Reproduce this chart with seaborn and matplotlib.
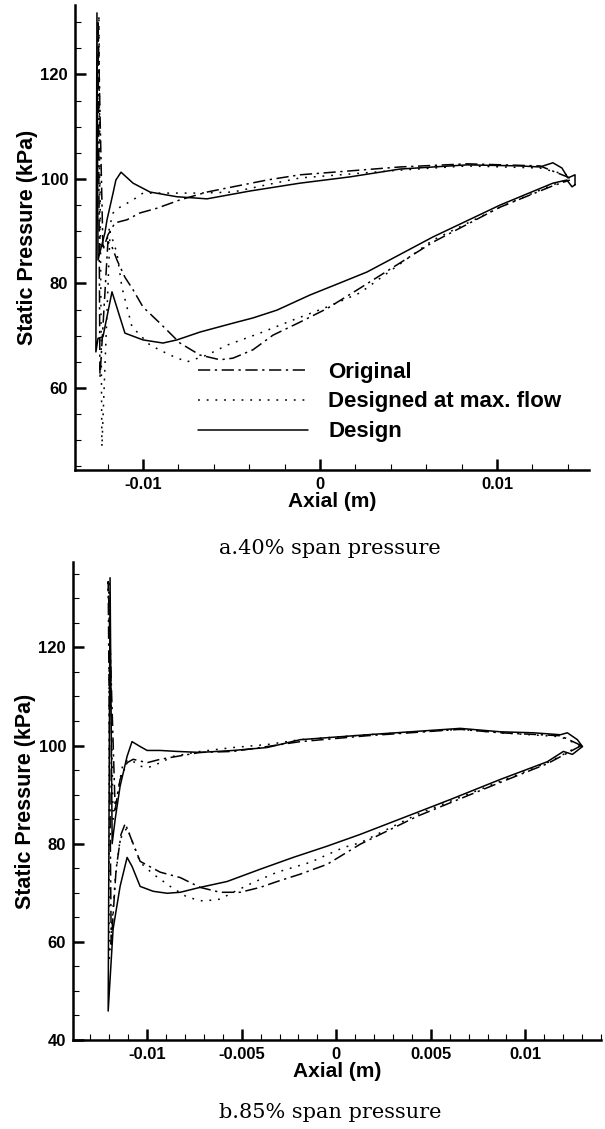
import matplotlib
matplotlib.use("Agg")
import matplotlib.pyplot as plt
from matplotlib.ticker import MultipleLocator, FuncFormatter
import seaborn as sns

# ---------------- data: (a) 40% span ----------------
a_orig_x = [0.01412, 0.01243, 0.00831, 0.00452, -0.00113, -0.00299, -0.00492, -0.00638, -0.00791,
            -0.00921, -0.01017, -0.0109, -0.01158, -0.01198, -0.01226, -0.01254, -0.01243, -0.01198,
            -0.01175, -0.01147, -0.01102, -0.01056, -0.0100, -0.00904, -0.00791, -0.00678, -0.00565,
            -0.00492, -0.00379, -0.00266, -0.00113, 0.0004, 0.00226, 0.00638, 0.01017, 0.01316, 0.01412]
a_orig_y = [100.2, 102.5, 102.9, 102.3, 100.8, 99.8, 98.5, 97.5, 96.0,
            94.4, 93.5, 92.2, 91.6, 89.3, 86.4, 130.4, 62.0, 88.0,
            87.0, 84.5, 81.2, 78.8, 75.5, 72.4, 68.6, 66.3, 65.4,
            65.7, 67.3, 70.1, 72.6, 75.2, 79.1, 87.9, 94.6, 98.7, 99.8]

a_max_x = [0.01395, 0.01243, 0.00831, 0.00452, -0.00113, -0.00299, -0.00492, -0.00678, -0.00864,
           -0.0100, -0.01056, -0.0113, -0.01169, -0.01186, -0.01203, -0.01243, -0.01249, -0.01232,
           -0.01186, -0.01147, -0.01119, -0.01062, -0.0096, -0.00847, -0.00751, -0.00638, -0.00525,
           -0.00339, -0.00153, 0.0004, 0.00226, 0.00638, 0.01017, 0.01316, 0.01395]
a_max_y = [100.8, 102.1, 102.5, 101.7, 100.2, 98.9, 97.5, 97.3, 97.3,
           97.3, 96.0, 94.6, 93.5, 91.2, 88.3, 86.4, 131.4, 48.7,
           89.9, 85.8, 79.3, 71.7, 68.2, 66.3, 65.0, 66.3, 68.2,
           70.5, 73.0, 75.5, 78.2, 88.3, 94.6, 98.9, 99.8]

a_des_x = [0.01441, 0.01441, 0.01401, 0.01367, 0.01316, 0.01243, 0.0113, 0.00831, 0.00452,
           0.00169, -0.00113, -0.00395, -0.00638, -0.00808, -0.0096, -0.01056, -0.01124, -0.01153,
           -0.01169, -0.01203, -0.01215, -0.01254, -0.0126, -0.01266, -0.01254, -0.01226, -0.01175,
           -0.01102, -0.0100, -0.00887, -0.00808, -0.00678, -0.00492, -0.00379, -0.00243, -0.00056,
           0.00113, 0.00266, 0.00638, 0.01017, 0.01316, 0.01395, 0.01424, 0.01441]
a_des_y = [98.9, 100.8, 100.2, 102.1, 103.1, 102.3, 102.5, 102.7, 101.9,
           100.4, 99.2, 97.7, 96.2, 96.6, 97.5, 99.2, 101.3, 99.8,
           97.3, 92.2, 89.7, 84.5, 131.8, 66.9, 69.5, 69.8, 78.4,
           70.5, 69.2, 68.6, 69.2, 70.7, 72.4, 73.4, 74.9, 77.8,
           80.1, 82.2, 88.9, 95.0, 99.2, 99.8, 98.5, 98.9]

# ---------------- data: (b) 85% span ----------------
b_orig_x = [0.01296, 0.01185, 0.00868, 0.00656, 0.00164, -0.0019, -0.00365, -0.00545, -0.0072,
            -0.00841, -0.00931, -0.0100, -0.01074, -0.01106, -0.01143, -0.01169, -0.01206, -0.0119,
            -0.01164, -0.01138, -0.01116, -0.01037, -0.00931, -0.00825, -0.0072, -0.00614, -0.00508,
            -0.00402, -0.00312, -0.0019, -0.00048, 0.00127, 0.00429, 0.00868, 0.01116, 0.01296]
b_orig_y = [100.0, 102.0, 102.6, 103.3, 102.0, 100.8, 99.8, 98.8, 98.6,
            97.8, 97.2, 96.5, 97.2, 96.5, 93.1, 87.0, 133.4, 59.5,
            74.8, 81.9, 84.1, 76.4, 74.2, 73.1, 71.1, 70.1, 70.1,
            71.1, 72.3, 73.8, 75.8, 79.9, 85.6, 92.5, 96.3, 100.0]

b_max_x = [0.01291, 0.01185, 0.00868, 0.00656, 0.00164, -0.0019, -0.00365, -0.00545, -0.0072,
           -0.00862, -0.00931, -0.00995, -0.01037, -0.0109, -0.01127, -0.01153, -0.0118, -0.01201,
           -0.01201, -0.01169, -0.01143, -0.01106, -0.01037, -0.00968, -0.00878, -0.00788, -0.00704,
           -0.00614, -0.00545, -0.00439, -0.00312, -0.00138, 0.00037, 0.00127, 0.00429, 0.00868,
           0.01116, 0.01291]
b_max_y = [100.0, 101.8, 102.6, 103.3, 102.2, 101.2, 100.2, 99.6, 98.8,
           97.8, 96.5, 95.5, 95.8, 97.2, 96.5, 91.0, 85.0, 133.8,
           55.8, 72.7, 80.9, 83.3, 76.2, 73.8, 71.3, 69.1, 68.3,
           68.7, 70.1, 72.1, 74.2, 76.2, 79.2, 80.2, 86.0, 92.7,
           96.5, 100.0]

b_des_x = [0.01302, 0.01275, 0.01222, 0.01185, 0.01042, 0.00868, 0.00656, 0.00164, -0.0019,
           -0.00365, -0.00545, -0.0072, -0.00841, -0.00931, -0.0100, -0.01037, -0.0108, -0.01106,
           -0.01143, -0.01169, -0.01185, -0.01196, -0.01206, -0.0118, -0.01143, -0.01106, -0.0108,
           -0.01037, -0.00968, -0.00894, -0.00825, -0.0072, -0.00577, -0.00402, -0.00228, -0.00048,
           0.00127, 0.00429, 0.00603, 0.00868, 0.01116, 0.01201, 0.01249, 0.01302]
b_des_y = [99.8, 101.2, 102.6, 102.2, 102.6, 102.8, 103.5, 102.2, 101.2,
           99.6, 99.0, 98.6, 98.8, 99.0, 99.0, 99.8, 100.8, 97.8,
           91.7, 85.0, 80.0, 134.2, 45.9, 62.6, 71.3, 77.2, 75.4,
           71.3, 70.3, 69.9, 70.1, 71.1, 72.3, 74.8, 77.2, 79.5,
           81.9, 86.4, 89.0, 93.1, 96.7, 98.8, 98.2, 99.8]

series_labels = ["Original", "Designed at max. flow", "Design"]
a_xticks_major, a_xticks_minor = 0.01, 0.002
b_xticks_major, b_xticks_minor = 0.005, 0.001
captions = ["a.40% span pressure", "b.85% span pressure"]

# ---------------- styling ----------------
sns.set_style("ticks")
plt.rcParams["font.family"] = ["Liberation Sans", "DejaVu Sans"]
plt.rcParams["font.weight"] = "bold"
plt.rcParams["axes.labelweight"] = "bold"
for k in ["text.color", "axes.labelcolor", "xtick.color", "ytick.color", "axes.edgecolor"]:
    plt.rcParams[k] = "black"

styles = [(0, (8, 3, 1.5, 3)), (0, (1.2, 4.5)), "-"]

fig = plt.figure(figsize=(6.05, 11.29), dpi=100)
W, H = 605, 1129
ax1 = fig.add_axes([75 / W, 1 - 470 / H, (589 - 75) / W, (470 - 5) / H])
ax2 = fig.add_axes([73 / W, 1 - 1040 / H, (601 - 73) / W, (1040 - 562) / H])

fmt = FuncFormatter(lambda v, p: "%g" % (round(v, 6) + 0.0))


def draw(ax, xs, ys, labels):
    for x, y, ls, lab in zip(xs, ys, styles, labels):
        kw = {}
        if lab is not None:
            kw["label"] = lab
        sns.lineplot(x=x, y=y, sort=False, estimator=None, ax=ax, color="black",
                     linewidth=1.1, linestyle=ls, **kw)


def style_axes(ax, xmaj, xmin, xlim, ylim):
    ax.set_xlim(*xlim)
    ax.set_ylim(*ylim)
    for s in ["top", "right"]:
        ax.spines[s].set_visible(False)
    for s in ["left", "bottom"]:
        ax.spines[s].set_linewidth(1.8)
        ax.spines[s].set_color("black")
    ax.xaxis.set_major_locator(MultipleLocator(xmaj))
    ax.xaxis.set_minor_locator(MultipleLocator(xmin))
    ax.yaxis.set_major_locator(MultipleLocator(20))
    ax.yaxis.set_minor_locator(MultipleLocator(5))
    ax.xaxis.set_major_formatter(fmt)
    ax.yaxis.set_major_formatter(fmt)
    ax.tick_params(which="major", direction="in", length=8, width=1.8, labelsize=12,
                   color="black", labelcolor="black")
    ax.tick_params(which="minor", direction="in", length=4, width=0.8, color="black")
    ax.tick_params(axis="x", which="major", pad=5)
    ax.tick_params(axis="y", which="major", pad=5)
    ax.set_xlabel("Axial (m)", fontsize=15, fontweight="bold", labelpad=0, color="black")
    ax.set_ylabel("Static Pressure (kPa)", fontsize=15.5, fontweight="bold", labelpad=2,
                  color="black")
    for lab in ax.get_xticklabels() + ax.get_yticklabels():
        lab.set_fontweight("bold")


draw(ax1, [a_orig_x, a_max_x, a_des_x], [a_orig_y, a_max_y, a_des_y], series_labels)
draw(ax2, [b_orig_x, b_max_x, b_des_x], [b_orig_y, b_max_y, b_des_y], [None, None, None])

style_axes(ax1, a_xticks_major, a_xticks_minor, (-0.01384, 0.0152), (44.3, 133.3))
style_axes(ax2, b_xticks_major, b_xticks_minor, (-0.01392, 0.0140), (40, 137.4))

if ax2.get_legend() is not None:
    ax2.get_legend().remove()

handles, labels = ax1.get_legend_handles_labels()
ax1.legend(handles, labels, frameon=False, loc="center left",
           bbox_to_anchor=(198 / W, 1 - 402 / H), bbox_transform=fig.transFigure,
           borderpad=0, borderaxespad=0, handlelength=4.95, handletextpad=0.9,
           labelspacing=0.4, prop={"weight": "bold", "size": 16})

fig.text(330 / W, 1 - 549 / H, captions[0], ha="center", va="center",
         family="DejaVu Serif", fontsize=15, fontweight="normal", color="black")
fig.text(330 / W, 1 - 1112 / H, captions[1], ha="center", va="center",
         family="DejaVu Serif", fontsize=15, fontweight="normal", color="black")

fig.savefig("out.png", dpi=100)
